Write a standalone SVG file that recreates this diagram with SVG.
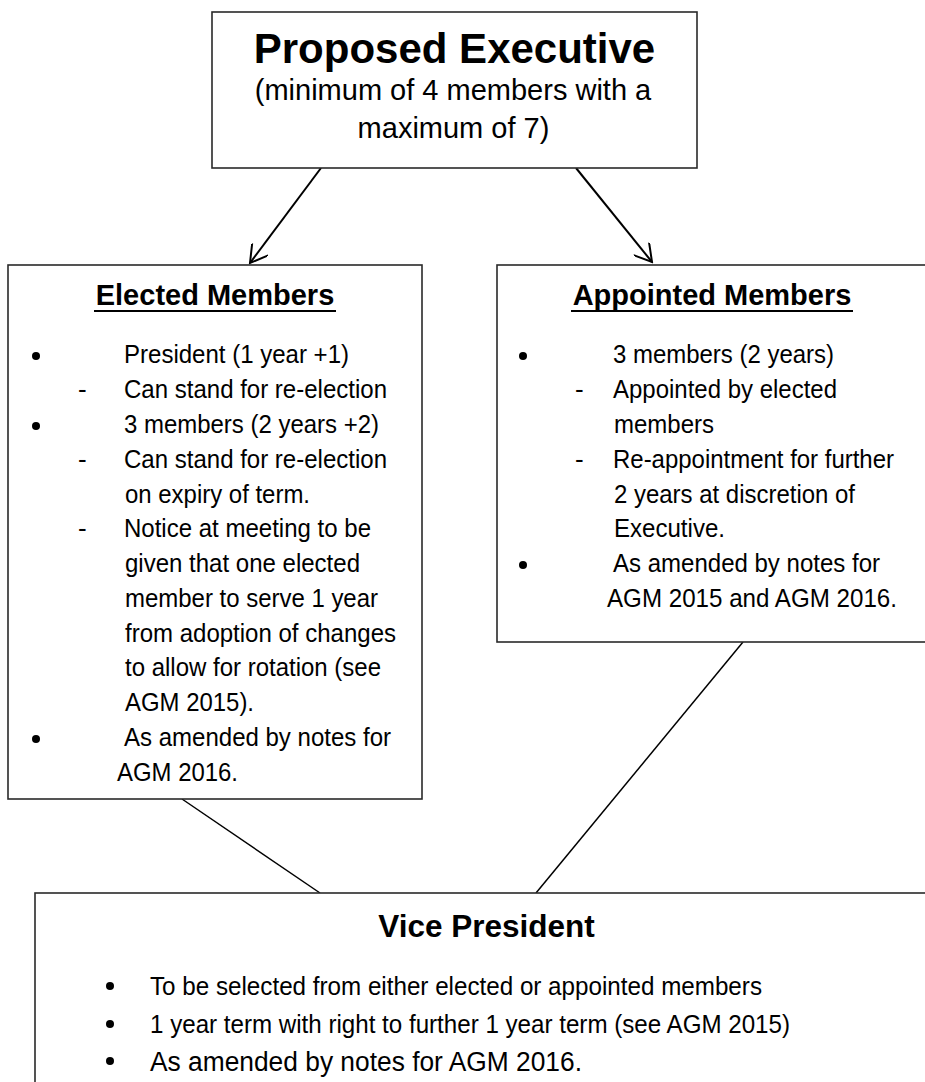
<svg xmlns="http://www.w3.org/2000/svg" width="925" height="1082" viewBox="0 0 925 1082">
<style>
.box{fill:#fff;stroke:#2a2a2a;stroke-width:1.6}
.t{font-family:"Liberation Sans",Arial,sans-serif;fill:#000}
.b{font-weight:bold}
.s26{font-size:26px}
.conn{stroke:#000;stroke-width:1.5;fill:none}
.arr{stroke:#000;stroke-width:2;fill:none}
.ul{stroke:#000;stroke-width:2}
.dot{fill:#000}
</style>
<defs>
<marker id="ah" viewBox="0 0 21 20" refX="19" refY="10" markerWidth="21" markerHeight="20" markerUnits="userSpaceOnUse" orient="auto">
<path d="M2,0 L19,10 L2,20" fill="none" stroke="#000" stroke-width="2"/>
</marker>
</defs>
<rect width="925" height="1082" fill="#fff"/>
<g id="connectors">
<line class="arr" x1="321" y1="168" x2="250" y2="263" marker-end="url(#ah)"/>
<line class="arr" x1="576" y1="168" x2="652" y2="262" marker-end="url(#ah)"/>
<line class="conn" x1="182" y1="799" x2="320" y2="893"/>
<line class="conn" x1="743" y1="642" x2="536" y2="893"/>
</g>
<g id="proposed-executive">
<rect class="box" x="212" y="12" width="485" height="156"/>
<text class="t b" x="454.5" y="63" font-size="42" text-anchor="middle">Proposed Executive</text>
<text class="t" x="453" y="100" font-size="29" text-anchor="middle">(minimum of 4 members with a</text>
<text class="t" x="453.5" y="138" font-size="29" text-anchor="middle">maximum of 7)</text>
</g>
<g id="elected-members">
<rect class="box" x="8" y="265" width="414" height="534"/>
<text class="t b" x="215" y="305" font-size="29" text-anchor="middle">Elected Members</text>
<line class="ul" x1="94" y1="311" x2="336" y2="311"/>
<circle class="dot" cx="36" cy="356" r="4"/>
<circle class="dot" cx="36" cy="426" r="4"/>
<circle class="dot" cx="36" cy="739" r="4"/>
<g class="t s26" lengthAdjust="spacingAndGlyphs">
<text x="124" y="363" textLength="225" lengthAdjust="spacingAndGlyphs">President (1 year +1)</text>
<text x="78" y="398">-</text><text x="124" y="398" textLength="263" lengthAdjust="spacingAndGlyphs">Can stand for re-election</text>
<text x="124" y="433" textLength="255" lengthAdjust="spacingAndGlyphs">3 members (2 years +2)</text>
<text x="78" y="468">-</text><text x="124" y="468" textLength="263" lengthAdjust="spacingAndGlyphs">Can stand for re-election</text>
<text x="125" y="503" textLength="185" lengthAdjust="spacingAndGlyphs">on expiry of term.</text>
<text x="78" y="537">-</text><text x="124" y="537" textLength="247" lengthAdjust="spacingAndGlyphs">Notice at meeting to be</text>
<text x="125" y="572" textLength="235" lengthAdjust="spacingAndGlyphs">given that one elected</text>
<text x="125" y="607" textLength="253" lengthAdjust="spacingAndGlyphs">member to serve 1 year</text>
<text x="125" y="642" textLength="271" lengthAdjust="spacingAndGlyphs">from adoption of changes</text>
<text x="125" y="676" textLength="256" lengthAdjust="spacingAndGlyphs">to allow for rotation (see</text>
<text x="125" y="711" textLength="129" lengthAdjust="spacingAndGlyphs">AGM 2015).</text>
<text x="124" y="746" textLength="267" lengthAdjust="spacingAndGlyphs">As amended by notes for</text>
<text x="117" y="781" textLength="121" lengthAdjust="spacingAndGlyphs">AGM 2016.</text>
</g>
</g>
<g id="appointed-members">
<rect class="box" x="497" y="265" width="440" height="377"/>
<text class="t b" x="712" y="305" font-size="29" text-anchor="middle">Appointed Members</text>
<line class="ul" x1="571" y1="311" x2="853" y2="311"/>
<circle class="dot" cx="523" cy="356" r="4"/>
<circle class="dot" cx="523" cy="565" r="4"/>
<g class="t s26">
<text x="613" y="363" textLength="221" lengthAdjust="spacingAndGlyphs">3 members (2 years)</text>
<text x="575" y="398">-</text><text x="613" y="398" textLength="224" lengthAdjust="spacingAndGlyphs">Appointed by elected</text>
<text x="614" y="433" textLength="100" lengthAdjust="spacingAndGlyphs">members</text>
<text x="575" y="468">-</text><text x="613" y="468" textLength="281" lengthAdjust="spacingAndGlyphs">Re-appointment for further</text>
<text x="614" y="503" textLength="241" lengthAdjust="spacingAndGlyphs">2 years at discretion of</text>
<text x="614" y="537" textLength="111" lengthAdjust="spacingAndGlyphs">Executive.</text>
<text x="613" y="572" textLength="267" lengthAdjust="spacingAndGlyphs">As amended by notes for</text>
<text x="607" y="607" textLength="290" lengthAdjust="spacingAndGlyphs">AGM 2015 and AGM 2016.</text>
</g>
</g>
<g id="vice-president">
<rect class="box" x="35" y="893" width="900" height="220"/>
<text class="t b" x="486.5" y="937" font-size="31.5" text-anchor="middle">Vice President</text>
<circle class="dot" cx="110" cy="986" r="4"/>
<circle class="dot" cx="110" cy="1024" r="4"/>
<circle class="dot" cx="110" cy="1061" r="4"/>
<text class="t" x="150" y="995" font-size="26" textLength="612" lengthAdjust="spacingAndGlyphs">To be selected from either elected or appointed members</text>
<text class="t" x="150" y="1033" font-size="26" textLength="640" lengthAdjust="spacingAndGlyphs">1 year term with right to further 1 year term (see AGM 2015)</text>
<text class="t" x="150" y="1071" font-size="27" textLength="432" lengthAdjust="spacingAndGlyphs">As amended by notes for AGM 2016.</text>
</g>
</svg>
